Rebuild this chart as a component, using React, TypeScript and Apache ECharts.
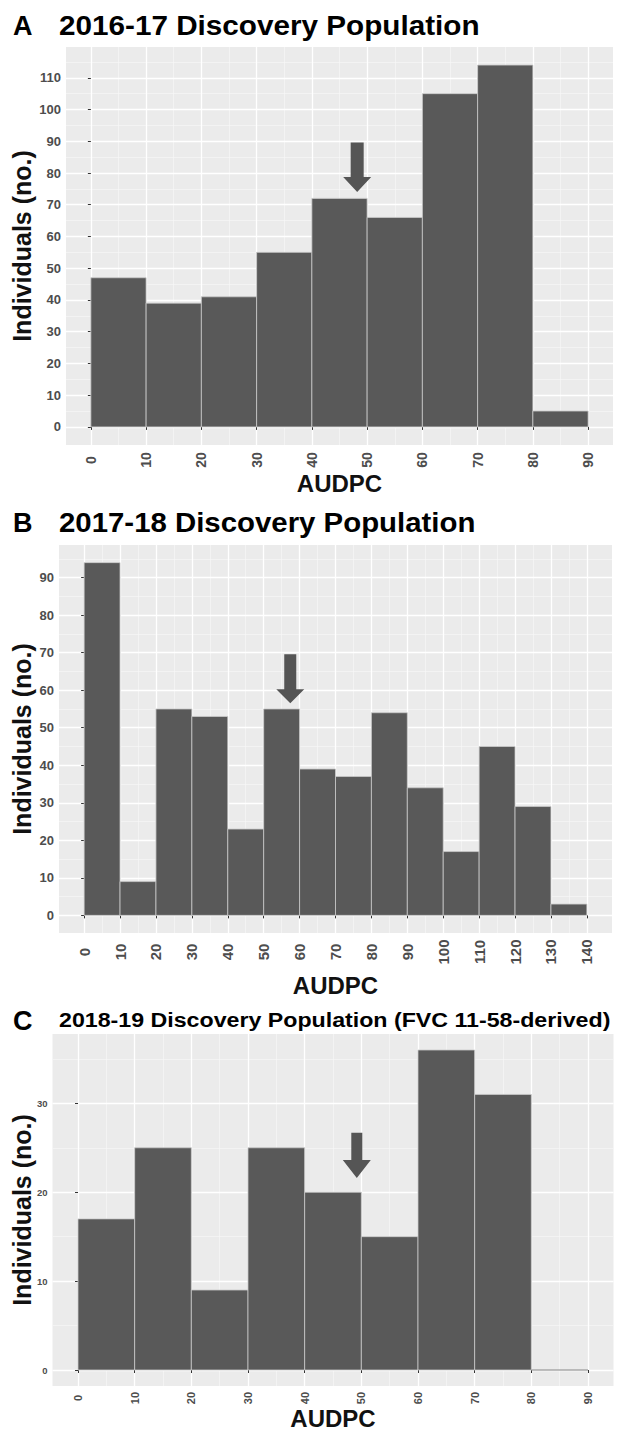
import React, { useEffect, useRef } from 'react';
import * as echarts from 'echarts';

const FONT = '"Liberation Sans", Arial, Helvetica, sans-serif';

// ---------- Panel A : 2016-17 Discovery Population ----------
const edgesA = [0, 10, 20, 30, 40, 50, 60, 70, 80, 90];
const countsA = [47, 39, 41, 55, 72, 66, 105, 114, 5];
const xTicksA = [0, 10, 20, 30, 40, 50, 60, 70, 80, 90];
const xMinorA = [5, 15, 25, 35, 45, 55, 65, 75, 85];
const yTicksA = [0, 10, 20, 30, 40, 50, 60, 70, 80, 90, 100, 110];
const yMinorA = [5, 15, 25, 35, 45, 55, 65, 75, 85, 95, 105, 115];
const arrowA = [48.2, 74, 89.6]; // x, tip, tail

// ---------- Panel B : 2017-18 Discovery Population ----------
const edgesB = [0, 10, 20, 30, 40, 50, 60, 70, 80, 90, 100, 110, 120, 130, 140];
const countsB = [94, 9, 55, 53, 23, 55, 39, 37, 54, 34, 17, 45, 29, 3];
const xTicksB = [0, 10, 20, 30, 40, 50, 60, 70, 80, 90, 100, 110, 120, 130, 140];
const xMinorB = [5, 15, 25, 35, 45, 55, 65, 75, 85, 95, 105, 115, 125, 135];
const yTicksB = [0, 10, 20, 30, 40, 50, 60, 70, 80, 90];
const yMinorB = [5, 15, 25, 35, 45, 55, 65, 75, 85, 95];
const arrowB = [57.4, 56.5, 69.6];

// ---------- Panel C : 2018-19 Discovery Population ----------
const edgesC = [0, 10, 20, 30, 40, 50, 60, 70, 80, 90];
const countsC = [17, 25, 9, 25, 20, 15, 36, 31, 0];
const xTicksC = [0, 10, 20, 30, 40, 50, 60, 70, 80, 90];
const xMinorC = [5, 15, 25, 35, 45, 55, 65, 75, 85];
const yTicksC = [0, 10, 20, 30];
const yMinorC = [5, 15, 25, 35];
const arrowC = [49.2, 21.6, 26.7];

const titlesText = [
  '2016-17 Discovery Population',
  '2017-18 Discovery Population',
  '2018-19 Discovery Population (FVC 11-58-derived)',
];
const panelLetters = ['A', 'B', 'C'];
const xTitle = 'AUDPC';
const yTitle = 'Individuals (no.)';

function expand(lo: number, hi: number): [number, number] {
  const e = (hi - lo) * 0.05;
  return [lo - e, hi + e];
}

function histRender(params: any, api: any) {
  const x0 = api.value(0);
  const x1 = api.value(1);
  const y = api.value(2);
  const p0 = api.coord([x0, y]);
  const p1 = api.coord([x1, 0]);
  return {
    type: 'rect',
    shape: { x: p0[0], y: p0[1], width: p1[0] - p0[0], height: p1[1] - p0[1] },
    style: { fill: y > 0 ? '#595959' : 'none', stroke: y > 0 ? '#c9c9c9' : '#9a9a9a', lineWidth: 0.8 },
  };
}

function makeArrowRender(shaftHalf: number, headHalf: number, headLen: number) {
  return (params: any, api: any) => {
    const x = api.value(0);
    const tip = api.coord([x, api.value(1)]);
    const tail = api.coord([x, api.value(2)]);
    const cx = tip[0];
    const hy = tip[1] - headLen;
    return {
      type: 'polygon',
      shape: {
        points: [
          [cx - shaftHalf, tail[1]],
          [cx + shaftHalf, tail[1]],
          [cx + shaftHalf, hy],
          [cx + headHalf, hy],
          [cx, tip[1]],
          [cx - headHalf, hy],
          [cx - shaftHalf, hy],
        ],
      },
      style: { fill: '#555555' },
    };
  };
}

const labelFmt = (v: number) => (Math.abs(v % 10) < 1e-9 ? String(v) : '');

function majorX(gi: number, range: [number, number], ticks: number[], fontSize: number, margin: number) {
  return {
    type: 'value', gridIndex: gi, min: range[0], max: range[1], minInterval: 10, maxInterval: 10, z: 1,
    axisLine: { show: false },
    axisTick: { show: true, length: 3, lineStyle: { color: '#333333', width: 1 }, customValues: ticks },
    axisLabel: {
      customValues: ticks, rotate: 90, align: 'center', verticalAlign: 'middle', margin,
      fontSize, fontWeight: 'bold', color: '#4d4d4d', fontFamily: FONT, formatter: labelFmt,
    },
    splitLine: { show: true, lineStyle: { color: '#ffffff', width: 1.3 } },
  };
}
function minorX(gi: number, range: [number, number], ticks: number[]) {
  return {
    type: 'value', gridIndex: gi, min: range[0], max: range[1], minInterval: 5, maxInterval: 5, z: 0,
    axisLine: { show: false }, axisTick: { show: false, customValues: ticks },
    axisLabel: { show: false, customValues: ticks },
    splitLine: { show: true, lineStyle: { color: '#f6f6f6', width: 0.7 } },
  };
}
function majorY(gi: number, range: [number, number], ticks: number[], fontSize: number, margin: number) {
  return {
    type: 'value', gridIndex: gi, min: range[0], max: range[1], minInterval: 10, maxInterval: 10, z: 1,
    axisLine: { show: false },
    axisTick: { show: true, length: 3, lineStyle: { color: '#333333', width: 1 }, customValues: ticks },
    axisLabel: {
      customValues: ticks, margin, fontSize, fontWeight: 'bold', color: '#4d4d4d', fontFamily: FONT, formatter: labelFmt,
    },
    splitLine: { show: true, lineStyle: { color: '#ffffff', width: 1.3 } },
  };
}
function minorY(gi: number, range: [number, number], ticks: number[]) {
  return {
    type: 'value', gridIndex: gi, min: range[0], max: range[1], minInterval: 5, maxInterval: 5, z: 0,
    axisLine: { show: false }, axisTick: { show: false, customValues: ticks },
    axisLabel: { show: false, customValues: ticks },
    splitLine: { show: true, lineStyle: { color: '#f6f6f6', width: 0.7 } },
  };
}

export default function App() {
  const ref = useRef<HTMLDivElement>(null);
  useEffect(() => {
    document.body.style.margin = '0';
    if (!ref.current) return;
    const chart = echarts.init(ref.current, undefined, { renderer: 'svg' });

    const xrA = expand(0, 90), yrA = expand(0, Math.max(...countsA));
    const xrB = expand(0, 140), yrB = expand(0, Math.max(...countsB));
    const xrC = expand(0, 90), yrC = expand(0, Math.max(...countsC));

    const grids = [
      { left: 66, top: 47, width: 547, height: 398 },
      { left: 59, top: 545, width: 553, height: 388 },
      { left: 52.5, top: 1034, width: 561, height: 352 },
    ];

    const hist = (edges: number[], counts: number[]) => counts.map((c, i) => [edges[i], edges[i + 1], c]);

    const textEl = (text: string, x: number, y: number, size: number, opts: any = {}) => ({
      type: 'text', x, y, rotation: opts.rotation || 0, scaleX: opts.scaleX || 1, scaleY: opts.scaleY || 1,
      style: {
        text, fontSize: size, fontWeight: 'bold', fontFamily: FONT, fill: opts.fill || '#000000',
        align: opts.align || 'left', verticalAlign: 'middle',
        textAlign: opts.align || 'left', textVerticalAlign: 'middle',
      },
    });

    const titleY = [25, 522, 1020];
    const titleSize = [28, 28, 20];
    const titleScale = [1.06, 1.05, 1.16];
    const xTitleY = [483, 985, 1418];

    const graphic: any[] = [];
    grids.forEach((g, i) => {
      graphic.push(textEl(panelLetters[i], 13, titleY[i] + 1, 27));
      graphic.push(textEl(titlesText[i], 59, titleY[i], titleSize[i], { scaleX: titleScale[i] }));
      graphic.push(textEl(xTitle, g.left + g.width / 2, xTitleY[i], 24, { align: 'center', fill: '#111111' }));
      graphic.push(textEl(yTitle, 22, g.top + g.height / 2, 25, { align: 'center', rotation: Math.PI / 2, fill: '#111111' }));
    });

    const option: any = {
      animation: false,
      backgroundColor: '#ffffff',
      grid: grids.map((g) => ({ ...g, show: true, backgroundColor: '#ebebeb', borderWidth: 0, containLabel: false })),
      xAxis: [
        majorX(0, xrA, xTicksA, 14, 15),
        majorX(1, xrB, xTicksB, 15, 19),
        majorX(2, xrC, xTicksC, 11, 12),
        minorX(0, xrA, xMinorA),
        minorX(1, xrB, xMinorB),
        minorX(2, xrC, xMinorC),
      ],
      yAxis: [
        majorY(0, yrA, yTicksA, 13, 5),
        majorY(1, yrB, yTicksB, 13, 5),
        majorY(2, yrC, yTicksC, 9.5, 5),
        minorY(0, yrA, yMinorA),
        minorY(1, yrB, yMinorB),
        minorY(2, yrC, yMinorC),
      ],
      graphic,
      series: [
        { type: 'custom', xAxisIndex: 0, yAxisIndex: 0, data: hist(edgesA, countsA), renderItem: histRender, encode: { x: [0, 1], y: 2 }, z: 2, silent: true },
        { type: 'custom', xAxisIndex: 1, yAxisIndex: 1, data: hist(edgesB, countsB), renderItem: histRender, encode: { x: [0, 1], y: 2 }, z: 2, silent: true },
        { type: 'custom', xAxisIndex: 2, yAxisIndex: 2, data: hist(edgesC, countsC), renderItem: histRender, encode: { x: [0, 1], y: 2 }, z: 2, silent: true },
        { type: 'custom', xAxisIndex: 0, yAxisIndex: 0, data: [arrowA], renderItem: makeArrowRender(6.5, 14, 15), encode: { x: 0, y: [1, 2] }, z: 3, silent: true },
        { type: 'custom', xAxisIndex: 1, yAxisIndex: 1, data: [arrowB], renderItem: makeArrowRender(6, 14, 14), encode: { x: 0, y: [1, 2] }, z: 3, silent: true },
        { type: 'custom', xAxisIndex: 2, yAxisIndex: 2, data: [arrowC], renderItem: makeArrowRender(5.5, 14, 18), encode: { x: 0, y: [1, 2] }, z: 3, silent: true },
      ],
    };
    chart.setOption(option);
    return () => chart.dispose();
  }, []);
  return <div ref={ref} style={{ width: 618, height: 1430 }} />;
}
